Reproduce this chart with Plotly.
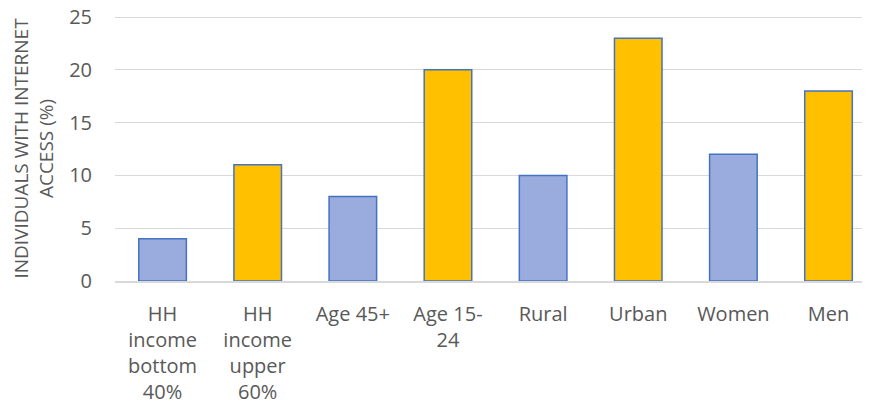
import plotly.graph_objects as go

categories = ["HH<br>income<br>bottom<br>40%", "HH<br>income<br>upper<br>60%", "Age 45+", "Age 15-<br>24",
              "Rural", "Urban", "Women", "Men"]
values = [4, 11, 8, 20, 10, 23, 12, 18]
bar_colors = ["#9aacdd", "#ffc000", "#9aacdd", "#ffc000", "#9aacdd", "#ffc000", "#9aacdd", "#ffc000"]
y_ticks = [0, 5, 10, 15, 20, 25]

fig = go.Figure()
fig.add_trace(go.Bar(
    x=list(range(len(categories))), y=values, width=0.5,
    marker=dict(color=bar_colors, line=dict(color="#4472c4", width=1.5)),
))

font_family = "Open Sans, Liberation Sans, sans-serif"
fig.update_layout(
    width=862, height=406,
    margin=dict(l=107, r=0, t=8, b=133),
    plot_bgcolor="white", paper_bgcolor="white",
    showlegend=False,
    font=dict(family=font_family, size=19, color="#595959"),
    xaxis=dict(
        tickmode="array", tickvals=list(range(len(categories))), ticktext=categories,
        range=[-0.5, 7.436], showgrid=False, showline=True, linecolor="#d9d9d9", linewidth=1.5,
        ticks="", ticklabelstandoff=14, tickfont=dict(size=20, color="#595959"),
        automargin=False, fixedrange=True,
    ),
    yaxis=dict(
        range=[0, 25.1], tickmode="array", tickvals=y_ticks, showgrid=True, gridcolor="#d9d9d9", gridwidth=1,
        zeroline=False, showline=False, ticks="", ticklabelstandoff=22, ticklabeloverflow="allow",
        tickfont=dict(size=20, color="#595959"), automargin=False,
        title=dict(text="INDIVIDUALS WITH INTERNET<br>ACCESS (%)", font=dict(size=19, color="#595959"), standoff=14),
    ),
)

fig.write_html("out.html")
